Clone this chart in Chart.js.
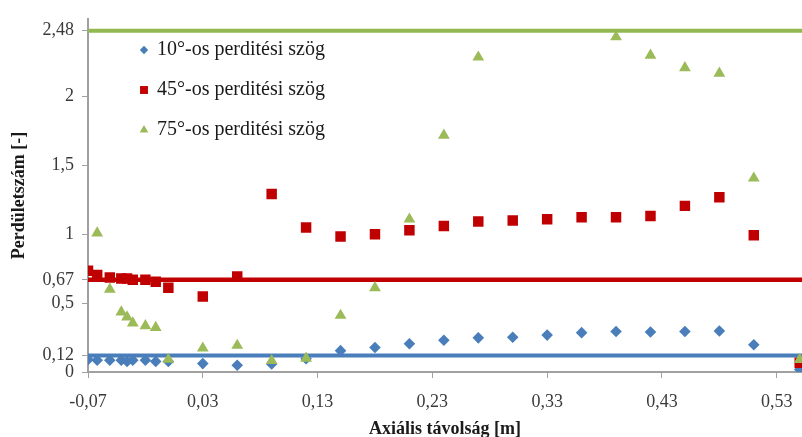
<!DOCTYPE html>
<html>
<head>
<meta charset="utf-8">
<script src="https://cdn.jsdelivr.net/npm/chart.js@4/dist/chart.umd.min.js"></script>
<style>
  html, body { margin: 0; padding: 0; background: #fff; }
</style>
</head>
<body>
<canvas id="output" width="802" height="437"></canvas>
<script>
// axial distance [m] (x) and swirl number (y) for each blade angle
const x10 = [-0.07, -0.062, -0.051, -0.041, -0.036, -0.031, -0.02, -0.011, 0.0, 0.03, 0.06, 0.09, 0.12, 0.15, 0.18, 0.21, 0.24, 0.27, 0.30, 0.33, 0.36, 0.39, 0.42, 0.45, 0.48, 0.51, 0.55]
const y10 = [0.09, 0.086, 0.086, 0.086, 0.077, 0.086, 0.086, 0.077, 0.077, 0.061, 0.049, 0.058, 0.096, 0.155, 0.178, 0.205, 0.231, 0.248, 0.253, 0.268, 0.286, 0.294, 0.291, 0.294, 0.298, 0.198, 0.018]

const x45 = [-0.07, -0.062, -0.051, -0.041, -0.036, -0.031, -0.02, -0.011, 0.0, 0.03, 0.06, 0.09, 0.12, 0.15, 0.18, 0.21, 0.24, 0.27, 0.30, 0.33, 0.36, 0.39, 0.42, 0.45, 0.48, 0.51, 0.55]
const y45 = [0.736, 0.704, 0.687, 0.68, 0.68, 0.67, 0.67, 0.655, 0.612, 0.549, 0.694, 1.293, 1.05, 0.985, 1.0, 1.03, 1.06, 1.094, 1.10, 1.11, 1.125, 1.125, 1.134, 1.207, 1.269, 0.993, 0.067]

const x75 = [-0.062, -0.051, -0.041, -0.036, -0.031, -0.02, -0.011, 0.0, 0.03, 0.06, 0.09, 0.12, 0.15, 0.18, 0.21, 0.24, 0.27, 0.39, 0.42, 0.45, 0.48, 0.51, 0.55]
const y75 = [1.01, 0.60, 0.436, 0.399, 0.356, 0.336, 0.323, 0.091, 0.173, 0.193, 0.082, 0.10, 0.411, 0.612, 1.11, 1.72, 2.287, 2.434, 2.30, 2.21, 2.17, 1.408, 0.09]

// mean swirl numbers (horizontal lines)
const mean10 = 0.12
const mean45 = 0.67
const mean75 = 2.48

const seriesLabels = ['10°-os perditési szög', '45°-os perditési szög', '75°-os perditési szög']
const xTicks = [-0.07, 0.03, 0.13, 0.23, 0.33, 0.43, 0.53]
const yTicks = [0, 0.12, 0.5, 0.67, 1, 1.5, 2, 2.48]

const X_MIN = -0.07
const X_MAX = 0.552

const blue = '#4a7ebb'
const red = '#c00000'
const green = '#9bbb59'
const serif = "'Liberation Serif', 'Times New Roman', serif"

function toPoints (xs, ys) {
  return xs.map(function (x, i) { return {x: x, y: ys[i]} })
}

function meanLine (v) {
  return [{x: X_MIN, y: v}, {x: X_MAX, y: v}]
}

function fmt (v) {
  return String(v).replace('.', ',')
}

// legend drawn inside the plot, top-left
const inlineLegend = {
  id: 'inlineLegend',
  afterDatasetsDraw (chart, args, opts) {
    const ctx = chart.ctx
    ctx.save()
    ctx.textBaseline = 'middle'
    ctx.font = opts.font
    opts.items.forEach(function (dsIndex, i) {
      const ds = chart.data.datasets[dsIndex]
      const y = opts.top + i * opts.step
      ctx.fillStyle = ds.backgroundColor
      ctx.strokeStyle = ds.backgroundColor
      Chart.helpers.drawPoint(ctx, {pointStyle: ds.pointStyle, radius: opts.radius[i], rotation: 0, borderWidth: 0}, opts.left, y)
      ctx.fillStyle = opts.color
      ctx.fillText(ds.label, opts.left + 13, y)
    })
    ctx.restore()
  }
}

const ctx = document.getElementById('output').getContext('2d')
const myChart = new Chart(ctx, {
  type: 'scatter',
  data: {
    datasets: [
      {
        label: seriesLabels[0],
        data: toPoints(x10, y10),
        pointStyle: 'rectRot',
        pointRadius: 5.8,
        pointBorderWidth: 0,
        backgroundColor: blue,
        borderColor: blue,
        order: 2
      },
      {
        label: seriesLabels[1],
        data: toPoints(x45, y45),
        pointStyle: 'rect',
        pointRadius: 7.4,
        pointBorderWidth: 0,
        backgroundColor: red,
        borderColor: red,
        order: 1
      },
      {
        label: seriesLabels[2],
        data: toPoints(x75, y75),
        pointStyle: 'triangle',
        pointRadius: 6.8,
        pointBorderWidth: 0,
        backgroundColor: green,
        borderColor: green,
        order: 0
      },
      {
        type: 'line',
        data: meanLine(mean10),
        borderColor: blue,
        borderWidth: 4,
        pointRadius: 0,
        order: 10
      },
      {
        type: 'line',
        data: meanLine(mean45),
        borderColor: red,
        borderWidth: 4.5,
        pointRadius: 0,
        order: 10
      },
      {
        type: 'line',
        data: meanLine(mean75),
        borderColor: '#92b850',
        borderWidth: 4,
        pointRadius: 0,
        order: 10
      }
    ]
  },
  options: {
    responsive: false,
    animation: false,
    layout: { autoPadding: false, padding: { top: 15, right: 0, bottom: 0, left: 0 } },
    plugins: {
      legend: { display: false },
      tooltip: { enabled: false },
      inlineLegend: {
        items: [0, 1, 2],
        left: 144,
        top: 50,
        step: 40,
        radius: [4.2, 5.6, 5],
        font: '20px ' + serif,
        color: '#1a1a1a'
      }
    },
    scales: {
      x: {
        type: 'linear',
        min: X_MIN,
        max: X_MAX,
        afterBuildTicks: function (scale) {
          scale.ticks = xTicks.map(function (v) { return {value: v} })
        },
        afterFit: function (scale) {
          scale.height = 65
          scale.paddingLeft = 0
          scale.paddingRight = 0
        },
        grid: { drawOnChartArea: false, drawTicks: true, tickLength: 6, color: '#a0a0a0' },
        border: { color: '#a0a0a0', width: 2 },
        ticks: {
          callback: function (v) { return fmt(v) },
          font: { family: serif, size: 18 },
          color: '#3a3a3a',
          padding: 13,
          maxRotation: 0,
          autoSkip: false
        },
        title: {
          display: true,
          text: 'Axiális távolság [m]',
          font: { family: serif, size: 18, weight: 'bold' },
          color: '#1a1a1a',
          padding: { top: 0, bottom: -3 }
        }
      },
      y: {
        type: 'linear',
        min: 0,
        max: 2.566,
        afterBuildTicks: function (scale) {
          scale.ticks = yTicks.map(function (v) { return {value: v} })
        },
        afterFit: function (scale) { scale.width = 88 },
        grid: { drawOnChartArea: false, drawTicks: true, tickLength: 6, color: '#a0a0a0' },
        border: { color: '#a0a0a0', width: 2 },
        ticks: {
          callback: function (v) { return fmt(v) },
          font: { family: serif, size: 18 },
          color: '#3a3a3a',
          padding: 8,
          autoSkip: false
        },
        title: {
          display: true,
          text: 'Perdületszám [-]',
          font: { family: serif, size: 18, weight: 'bold' },
          color: '#1a1a1a',
          padding: { top: 9, bottom: 0 }
        }
      }
    }
  },
  plugins: [inlineLegend]
})
</script>
</body>
</html>
